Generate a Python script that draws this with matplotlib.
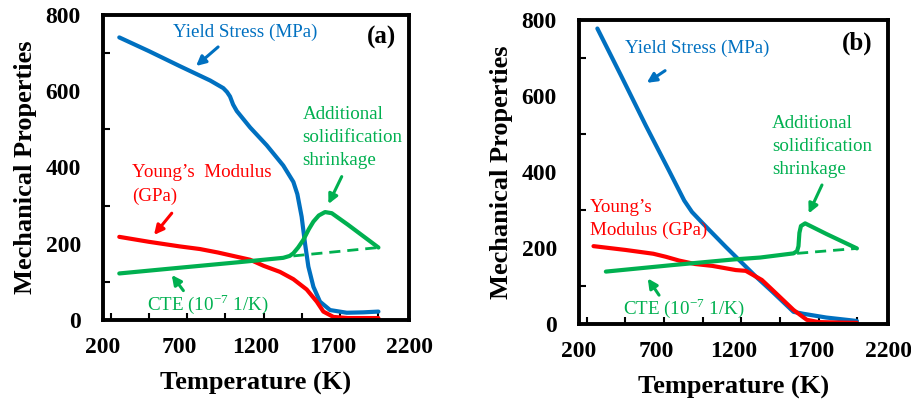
import matplotlib
matplotlib.use("Agg")
import matplotlib.pyplot as plt
from matplotlib.ticker import MultipleLocator

plt.rcParams['font.family'] = 'serif'
plt.rcParams['font.serif'] = ['Liberation Serif', 'DejaVu Serif']
plt.rcParams['mathtext.fontset'] = 'custom'
plt.rcParams['mathtext.rm'] = 'Liberation Serif'

BLUE = '#0070C0'
RED = '#FF0000'
GREEN = '#00B050'

# ---- Panel (a) data ----
a_ys_T = [306, 500, 700, 900, 986, 1010, 1030, 1050, 1074, 1161, 1270, 1378, 1444, 1470, 1498, 1520, 1542, 1575, 1618, 1684, 1793, 1900, 2000]
a_ys_V = [741, 705, 666, 628, 608, 598, 586, 565, 548, 505, 458, 405, 362, 330, 271, 201, 140, 87, 48, 26, 19, 20, 22]
a_ym_T = [306, 500, 700, 834, 950, 1050, 1161, 1250, 1357, 1444, 1531, 1597, 1640, 1706, 1800, 2000]
a_ym_V = [218, 205, 193, 186, 177, 168, 158, 142, 126, 107, 80, 48, 22, 8, 5, 5]
a_cte_T = [306, 700, 1100, 1378, 1420, 1444, 1475, 1509, 1545, 1575, 1610, 1651, 1695, 1800, 1900, 2000]
a_cte_V = [122, 137, 152, 163, 168, 175, 190, 210, 238, 258, 274, 283, 280, 250, 220, 190]
a_dash_T = [1444, 2000]
a_dash_V = [168, 190]

# ---- Panel (b) data ----
b_ys_T = [318, 470, 632, 780, 880, 930, 1000, 1149, 1343, 1450, 1587, 1650, 1800, 1997]
b_ys_V = [778, 655, 522, 405, 325, 295, 265, 203, 125, 85, 32, 27, 17, 8]
b_ym_T = [293, 500, 680, 761, 847, 950, 1062, 1214, 1278, 1343, 1382, 1450, 1587, 1673, 1750, 1997]
b_ym_V = [205, 195, 185, 177, 167, 158, 153, 142, 140, 125, 116, 90, 37, 11, 5, 3]
b_cte_T = [373, 800, 1200, 1371, 1587, 1610, 1619, 1625, 1635, 1662, 1800, 1997]
b_cte_V = [138, 155, 170, 175, 186, 192, 205, 240, 258, 265, 237, 199]
b_dash_T = [1610, 1997]
b_dash_V = [186, 199]

xticks = [200, 700, 1200, 1700, 2200]
yticks = [0, 200, 400, 600, 800]

fig = plt.figure(figsize=(9.12, 4.03), dpi=100)
axA = fig.add_axes([0.113, 0.206, 0.3355, 0.757])
axB = fig.add_axes([0.635, 0.196, 0.339, 0.754])

LW = 3.0
TXT = 13.7


def style(ax):
    ax.set_xlim(200, 2200)
    ax.set_ylim(0, 800)
    ax.set_xticks(xticks)
    ax.set_yticks(yticks)
    ax.xaxis.set_minor_locator(MultipleLocator(250))
    ax.yaxis.set_minor_locator(MultipleLocator(100))
    ax.tick_params(which='both', direction='in', top=False, right=False, width=1.5)
    ax.tick_params(which='major', length=0)
    ax.tick_params(which='minor', length=5)
    ax.tick_params(axis='x', which='major', pad=12)
    ax.tick_params(axis='y', which='major', pad=16)
    for lab in ax.get_xticklabels() + ax.get_yticklabels():
        lab.set_fontweight('bold')
        lab.set_fontsize(17)
    for s in ax.spines.values():
        s.set_linewidth(2.8)
    ax.set_xlabel('Temperature (K)', fontsize=19, fontweight='bold', labelpad=10)
    ax.set_ylabel('Mechanical Properties', fontsize=19, fontweight='bold', labelpad=6)


def arrow(ax, xy, xytext, color):
    ax.annotate('', xy=xy, xytext=xytext,
                arrowprops=dict(arrowstyle='-|>', color=color, lw=2.2,
                                mutation_scale=14, shrinkA=0, shrinkB=0))


# Panel (a)
ax = axA
ax.plot(a_ys_T, a_ys_V, color=BLUE, lw=LW, solid_capstyle='round')
ax.plot(a_ym_T, a_ym_V, color=RED, lw=LW, solid_capstyle='round')
ax.plot(a_cte_T, a_cte_V, color=GREEN, lw=LW, solid_capstyle='round')
ax.plot(a_dash_T, a_dash_V, color=GREEN, lw=2.0, ls=(0, (4, 2.5)))
style(ax)
ax.text(1128, 755, 'Yield Stress (MPa)', color=BLUE, fontsize=TXT, ha='center', va='center')
arrow(ax, (808, 666), (952, 716), BLUE)
ax.text(2023, 740, '(a)', fontsize=18, fontweight='bold', ha='center', va='center')
ax.text(387, 386, 'Young\u2019s  Modulus', color=RED, fontsize=TXT, ha='left', va='center')
ax.text(387, 323, '(GPa)', color=RED, fontsize=TXT, ha='left', va='center')
arrow(ax, (533, 223), (649, 280), RED)
ax.text(1505, 538, 'Additional', color=GREEN, fontsize=TXT, ha='left', va='center')
ax.text(1505, 478, 'solidification', color=GREEN, fontsize=TXT, ha='left', va='center')
ax.text(1505, 418, 'shrinkage', color=GREEN, fontsize=TXT, ha='left', va='center')
arrow(ax, (1673, 304), (1760, 376), GREEN)
ax.text(485, 42, 'CTE (10$^{\\mathrm{-7}}$ 1/K)', color=GREEN, fontsize=TXT, ha='left', va='center')
arrow(ax, (649, 118), (725, 77), GREEN)

# Panel (b)
ax = axB
ax.plot(b_ys_T, b_ys_V, color=BLUE, lw=LW, solid_capstyle='round')
ax.plot(b_ym_T, b_ym_V, color=RED, lw=LW, solid_capstyle='round')
ax.plot(b_cte_T, b_cte_V, color=GREEN, lw=LW, solid_capstyle='round')
ax.plot(b_dash_T, b_dash_V, color=GREEN, lw=2.0, ls=(0, (4, 2.5)))
style(ax)
ax.text(962, 726, 'Yield Stress (MPa)', color=BLUE, fontsize=TXT, ha='center', va='center')
arrow(ax, (638, 635), (756, 667), BLUE)
ax.text(1997, 739, '(b)', fontsize=18, fontweight='bold', ha='center', va='center')
ax.text(271, 307, 'Young\u2019s', color=RED, fontsize=TXT, ha='left', va='center')
ax.text(271, 247, 'Modulus (GPa)', color=RED, fontsize=TXT, ha='left', va='center')
ax.text(1447, 528, 'Additional', color=GREEN, fontsize=TXT, ha='left', va='center')
ax.text(1447, 467, 'solidification', color=GREEN, fontsize=TXT, ha='left', va='center')
ax.text(1447, 407, 'shrinkage', color=GREEN, fontsize=TXT, ha='left', va='center')
arrow(ax, (1685, 291), (1771, 366), GREEN)
ax.text(487, 41, 'CTE (10$^{\\mathrm{-7}}$ 1/K)', color=GREEN, fontsize=TXT, ha='left', va='center')
arrow(ax, (644, 120), (717, 76), GREEN)

fig.savefig('out.png', dpi=100)
